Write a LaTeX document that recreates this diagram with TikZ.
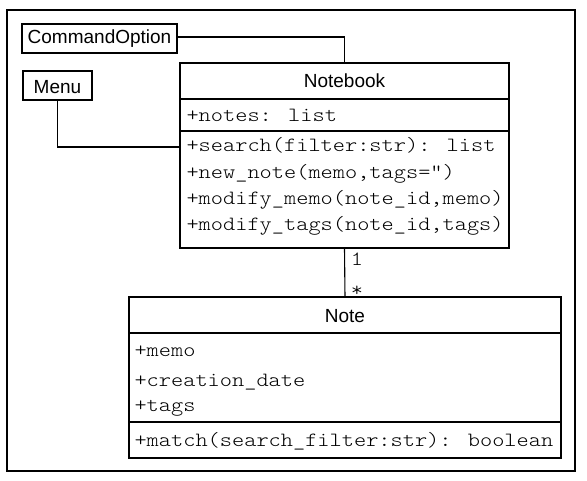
\documentclass[tikz,border=0pt]{standalone}
\usepackage{fontspec}
\newfontfamily\sansf{Liberation Sans}
\newfontfamily\monof[FakeStretch=1.15]{Latin Modern Mono Light}
\begin{document}
\begin{tikzpicture}[x=1pt,y=-1pt,
  line width=1.1pt,
  box/.style={draw, inner sep=0pt, outer sep=0pt, anchor=north west},
  stxt/.style={inner sep=0pt, anchor=base, font=\sansf\fontsize{19}{22}\selectfont},
  mtxt/.style={inner sep=0pt, anchor=base west, font=\monof\fontsize{20.2}{24}\selectfont},
  mult/.style={inner sep=0pt, font=\monof\fontsize{20.2}{24}\selectfont}]
\useasboundingbox (0,0) rectangle (587,481);
\draw (7,10) rectangle (575,471);
% CommandOption
\node[box, minimum width=155pt, minimum height=29pt] (co) at (22,24) {};
\node[stxt] (cot) at (99.5,44) {CommandOption};
% Menu
\node[box, minimum width=69pt, minimum height=29pt] (menu) at (23,71) {};
\node[stxt] (mt) at (57.5,94) {Menu};
% Notebook
\node[box, minimum width=329pt, minimum height=185pt] (nb) at (180,63) {};
\draw (180,99) -- (509,99);
\draw (180,131) -- (509,131);
\node[stxt] (nbt) at (344.5,88) {Notebook};
\node[mtxt] (n1) at (186,122) {+notes: list};
\node[mtxt] (n2) at (186,152) {+search(filter:str): list};
\node[mtxt] (n3) at (186,178.5) {+new\_note(memo,tags=")};
\node[mtxt] (n4) at (186,205) {+modify\_memo(note\_id,memo)};
\node[mtxt] (n5) at (186,231) {+modify\_tags(note\_id,tags)};
% Note
\node[box, minimum width=432pt, minimum height=161pt] (note) at (129,297) {};
\draw (129,333) -- (561,333);
\draw (129,422) -- (561,422);
\node[stxt] (nt) at (345,323) {Note};
\node[mtxt] (a1) at (134,356) {+memo};
\node[mtxt] (a2) at (134,386.5) {+creation\_date};
\node[mtxt] (a3) at (134,411.5) {+tags};
\node[mtxt] (a4) at (134,446.5) {+match(search\_filter:str): boolean};
% connectors
\coordinate (nbm) at (180,147);
\draw ([yshift=1.5pt]co.east) -| (nb.north);
\draw (menu.south) |- (nbm);
\draw (nb.south) -- (note.north);
\node[mult] (m1) at (357,259) {1};
\node[mult] (m2) at (357,291) {*};
\end{tikzpicture}
\end{document}
